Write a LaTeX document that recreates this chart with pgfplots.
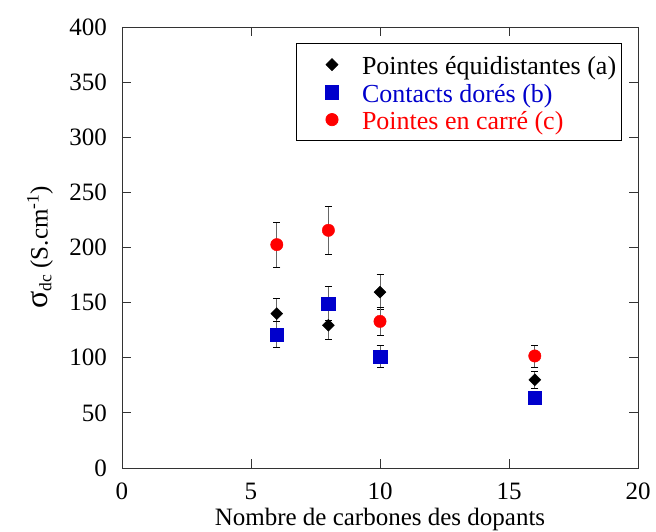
\documentclass[border=0pt]{standalone}
\usepackage{pgfplots}
\pgfplotsset{compat=1.18}
\usepackage{fontspec}
\setmainfont{Liberation Serif}
\definecolor{ptblue}{RGB}{0,0,204}
\definecolor{ptred}{RGB}{255,0,0}
\newcommand{\bigfont}{\fontsize{25}{29}\selectfont}
\begin{document}
\bigfont
\begin{tikzpicture}
\begin{axis}[
    name=ax,
    scale only axis,
    width=516pt, height=441pt,
    xmin=0, xmax=20, ymin=0, ymax=400,
    xtick={0,5,...,20}, ytick={0,50,...,400},
    tick align=inside, major tick length=9pt,
    minor tick num=0,
    tick style={black!80, line width=0.8pt},
    axis line style={black!80, line width=0.8pt},
    /pgf/number format/assume math mode=true,
    tick label style={font=\bigfont},
    xticklabel style={inner sep=0pt, anchor=north, yshift=-15pt},
    yticklabel style={inner sep=0pt, anchor=east, xshift=-15pt},
    xlabel={Nombre de carbones des dopants},
    ylabel={{\fontsize{32}{32}\selectfont σ}\textsubscript{dc} (S.cm\textsuperscript{-1})},
    xlabel style={font=\bigfont, at={(axis description cs:0.5,0)}, anchor=base, yshift=-58pt},
    ylabel style={font=\fontsize{25}{29}\selectfont, at={(axis description cs:0,0.5)}, anchor=center, yshift=82pt},
    legend style={at={(0.968,0.963)}, anchor=north east, draw=black,
        line width=0.6pt, font=\fontsize{26}{30}\selectfont,
        inner xsep=5pt, inner ysep=10pt,
        nodes={inner sep=0pt, text height=21pt, text depth=1pt},
        row sep=5.5pt, column sep=0pt},
    legend cell align=left,
    legend image code/.code={\path[draw=none] (-31pt,0pt) -- (30pt,0pt);
        \path[#1, draw=none] plot coordinates {(0pt,0pt)};},
    error bars/error bar style={black!60, line width=0.8pt},
    error bars/error mark options={black, rotate=90, mark size=3.5pt, line width=0.8pt},
]
\addplot[only marks, mark=diamond*, mark size=6pt, mark options={xscale=1.33}, color=black,
    error bars/.cd, y dir=both, y explicit]
coordinates {
(6,140) +- (0,13.5)
(8,129.5) +- (0,13)
(10,159.6) +- (0,16)
(16,80) +- (0,8)
};
\addlegendentry{\textcolor{black}{Pointes équidistantes (a)}}
\addplot[only marks, mark=square*, mark size=6.7pt, color=ptblue,
    error bars/.cd, y dir=both, y explicit]
coordinates {
(6,121) +- (0,12)
(8,149) +- (0,15.5)
(10,101) +- (0,10)
(16,64) +- (0,5)
};
\addlegendentry{\textcolor{ptblue}{Contacts dorés (b)}}
\addplot[only marks, mark=*, mark size=6.2pt, color=ptred,
    error bars/.cd, y dir=both, y explicit]
coordinates {
(6,202.6) +- (0,20.5)
(8,215.6) +- (0,21.5)
(10,133) +- (0,12.5)
(16,101.6) +- (0,10)
};
\addlegendentry{\textcolor{ptred}{Pointes en carré (c)}}
\end{axis}
\pgfresetboundingbox
\path[use as bounding box] ([shift={(-122pt,-64pt)}]ax.south west) rectangle ([shift={(18pt,27pt)}]ax.north east);
\end{tikzpicture}
\end{document}
